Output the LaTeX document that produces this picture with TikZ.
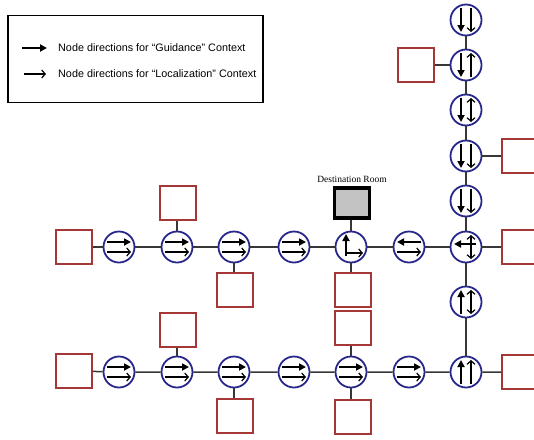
\documentclass[tikz,border=0pt]{standalone}
\usepackage{fontspec}
\setmainfont{Liberation Serif}
\setsansfont{Liberation Sans}
\usetikzlibrary{arrows.meta}

\definecolor{ringblue}{RGB}{40,40,140}
\definecolor{roomred}{RGB}{165,55,55}
\definecolor{linkgray}{RGB}{55,55,55}
\definecolor{destfill}{RGB}{195,195,195}

\tikzset{
  wp/.style={circle, draw=ringblue, line width=1.8pt, minimum size=31pt, inner sep=0pt, fill=white},
  room/.style={draw=roomred, line width=1.5pt, minimum width=36pt, minimum height=34pt, inner sep=0pt, fill=white},
  destroom/.style={draw=black, line width=3.5pt, minimum width=35pt, minimum height=30pt, inner sep=0pt, fill=destfill},
  link/.style={draw=linkgray, line width=1.5pt},
  guide/.style={line width=2.2pt, -{Triangle[length=7pt,width=7pt]}},
  local/.style={line width=1.2pt, -{Straight Barb[length=3.5pt,width=8pt]}},
  localboth/.style={line width=1.2pt, {Straight Barb[length=3.5pt,width=8pt]}-{Straight Barb[length=3.5pt,width=8pt]}},
}

% guidance arrow above, localization arrow below, both pointing right
\newcommand\pairright[1]{%
  \draw[guide, shift={(#1.center)}] (-12,-5) -- (12,-5);
  \draw[local, shift={(#1.center)}] (-12,5) -- (12,5);}

\begin{document}
\begin{tikzpicture}[x=1pt, y=-1pt]
\useasboundingbox (0,0) rectangle (534,439);
\clip (0,0) rectangle (534,439);

% legend
\node[draw=black, line width=1.2pt, minimum width=255pt, minimum height=87pt, inner sep=0pt] (legend) at (135.5,59) {};
\coordinate (lg1s) at (22,48);  \coordinate (lg1e) at (47,48);
\coordinate (lg2s) at (24,74);  \coordinate (lg2e) at (46,74);
\draw[guide] (lg1s) -- (lg1e);
\draw[local] (lg2s) -- (lg2e);
\node[anchor=west, font=\sffamily\fontsize{10.8}{13}\selectfont, inner sep=0pt] (lt1) at (58,48) {Node directions for “Guidance” Context};
\node[anchor=west, font=\sffamily\fontsize{10.8}{13}\selectfont, inner sep=0pt] (lt2) at (58,74) {Node directions for “Localization” Context};

% waypoints, upper corridor
\node[wp] (A1) at (119,247) {};
\node[wp] (A2) at (177,247) {};
\node[wp] (A3) at (234,247) {};
\node[wp] (A4) at (294,247) {};
\node[wp] (A5) at (351,247) {};
\node[wp] (A6) at (409,247) {};
\node[wp] (A7) at (466,247) {};
% waypoints, lower corridor
\node[wp] (B1) at (119,372) {};
\node[wp] (B2) at (177,372) {};
\node[wp] (B3) at (234,372) {};
\node[wp] (B4) at (294,372) {};
\node[wp] (B5) at (351,372) {};
\node[wp] (B6) at (409,372) {};
\node[wp] (B7) at (466,372) {};
% waypoints, vertical corridor
\node[wp] (V1) at (466,20) {};
\node[wp] (V2) at (466,65) {};
\node[wp] (V3) at (466,110) {};
\node[wp] (V4) at (466,156) {};
\node[wp] (V5) at (466,201) {};
\node[wp] (V6) at (466,302) {};

% rooms
\node[room] (RA0) at (74,247) {};
\node[room] (RA2) at (178,203) {};
\node[room] (RA3) at (235,290) {};
\node[destroom] (DEST) at (352,203) {};
\node[font=\fontsize{9.5}{11}\selectfont, inner sep=0pt] (destlabel) at (352,179) {Destination Room};
\node[room] (RA5) at (353,290) {};
\node[room] (RA8) at (520,247) {};
\node[room] (RB0) at (74,371) {};
\node[room] (RB2) at (178,330) {};
\node[room] (RB3) at (235,416) {};
\node[room] (RB5t) at (353,328) {};
\node[room] (RB5b) at (353,417) {};
\node[room] (RB8) at (520,372) {};
\node[room] (RV2) at (416,65) {};
\node[room] (RV4) at (520,156) {};

% corridor links
\path[link] (RA0) -- (A1) -- (A2) -- (A3) -- (A4) -- (A5) -- (A6) -- (A7) -- (RA8);
\path[link] (RB0) -- (B1) -- (B2) -- (B3) -- (B4) -- (B5) -- (B6) -- (B7) -- (RB8);
\path[link] (V1) -- (V2) -- (V3) -- (V4) -- (V5) -- (A7) -- (V6) -- (B7);
% door links, straight up or down from each waypoint
\path[link] (A2) -- (A2 |- RA2.south);
\path[link] (A3) -- (A3 |- RA3.north);
\path[link] (A5) -- (A5 |- DEST.south);
\path[link] (A5) -- (A5 |- RA5.north);
\path[link] (B2) -- (B2 |- RB2.south);
\path[link] (B3) -- (B3 |- RB3.north);
\path[link] (B5) -- (B5 |- RB5t.south);
\path[link] (B5) -- (B5 |- RB5b.north);
\path[link] (V2) -- (RV2);
\path[link] (V4) -- (RV4);

% directions inside waypoints
\pairright{A1}\pairright{A2}\pairright{A3}\pairright{A4}
\pairright{B1}\pairright{B2}\pairright{B3}\pairright{B4}\pairright{B5}\pairright{B6}
% destination: guidance up into the room, localization onward
\draw[guide, shift={(A5.center)}] (-5,9) -- (-5,-13);
\draw[local, shift={(A5.center)}] (-5,6) -- (12,6);
% reverse guidance
\draw[guide, shift={(A6.center)}] (12,-5) -- (-12,-5);
\draw[local, shift={(A6.center)}] (-12,5) -- (12,5);
% junction
\draw[guide, shift={(A7.center)}] (10,-3) -- (-12,-3);
\draw[localboth, shift={(A7.center)}] (5,-12) -- (5,12);
% vertical corridor
\draw[guide, shift={(V1.center)}] (-5,-12) -- (-5,12);
\draw[local, shift={(V1.center)}] (5,-12) -- (5,12);
\draw[guide, shift={(V2.center)}] (-5,-12) -- (-5,12);
\draw[local, shift={(V2.center)}] (5,12) -- (5,-12);
\draw[guide, shift={(V3.center)}] (-5,-12) -- (-5,12);
\draw[localboth, shift={(V3.center)}] (5,-12) -- (5,12);
\draw[guide, shift={(V4.center)}] (-5,-12) -- (-5,12);
\draw[local, shift={(V4.center)}] (5,-12) -- (5,12);
\draw[guide, shift={(V5.center)}] (-5,-12) -- (-5,12);
\draw[local, shift={(V5.center)}] (5,-12) -- (5,12);
\draw[guide, shift={(V6.center)}] (-5,12) -- (-5,-12);
\draw[localboth, shift={(V6.center)}] (5,-12) -- (5,12);
\draw[guide, shift={(B7.center)}] (-5,12) -- (-5,-12);
\draw[local, shift={(B7.center)}] (5,12) -- (5,-12);
\end{tikzpicture}
\end{document}
